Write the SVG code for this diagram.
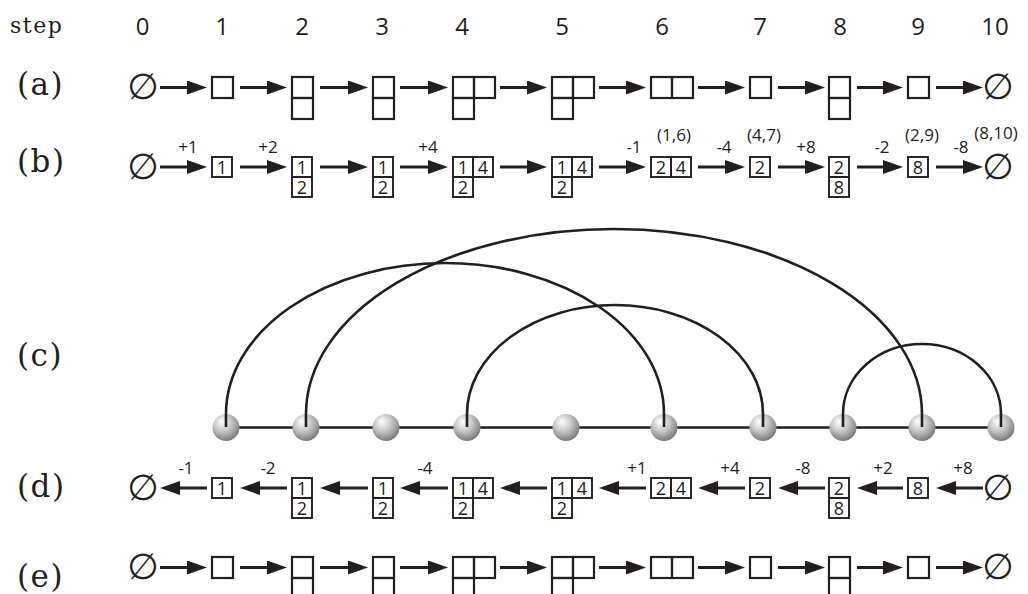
<svg xmlns="http://www.w3.org/2000/svg" width="1028" height="594" viewBox="0 0 1028 594">
<defs>
<style>
.lbl{font-family:"DejaVu Serif",serif;font-size:31px;fill:#231f20;letter-spacing:1.5px}
.stp{font-family:"DejaVu Serif",serif;font-size:22px;fill:#231f20;letter-spacing:1.5px}
.num{font-family:"Open Sans","Liberation Sans",sans-serif;font-size:24px;fill:#231f20;text-anchor:middle}
.ann{font-family:"Open Sans","Liberation Sans",sans-serif;font-size:17px;fill:#231f20;text-anchor:middle}
.dg{font-family:"Open Sans","Liberation Sans",sans-serif;font-size:18px;fill:#231f20;text-anchor:middle}
.emp{font-family:"DejaVu Sans",sans-serif;font-size:36px;fill:#231f20;text-anchor:middle}
.bx{fill:none;stroke:#231f20;stroke-width:2.2}
.bs{fill:none;stroke:#231f20;stroke-width:1.9}
.ar{fill:none;stroke:#231f20;stroke-width:2.8}
.arc{fill:none;stroke:#231f20;stroke-width:2.6}
.ball{fill:url(#sph)}
</style>
<marker id="ah" markerUnits="userSpaceOnUse" markerWidth="22" markerHeight="16" refX="9" refY="7" orient="auto">
<path d="M0,0 L20,7 L0,14 Z" fill="#231f20"/>
</marker>
<radialGradient id="sph" cx="0.42" cy="0.36" r="0.66" fx="0.34" fy="0.28">
<stop offset="0" stop-color="#ffffff"/>
<stop offset="0.5" stop-color="#c6c6c6"/>
<stop offset="1" stop-color="#767676"/>
</radialGradient>
</defs>
<rect width="1028" height="594" fill="#ffffff"/>

<g id="header">
<text class="stp" x="10" y="33">step</text>
<text class="num" x="142.5" y="35">0</text>
<text class="num" x="222" y="35">1</text>
<text class="num" x="302" y="35">2</text>
<text class="num" x="382" y="35">3</text>
<text class="num" x="462" y="35">4</text>
<text class="num" x="562" y="35">5</text>
<text class="num" x="662" y="35">6</text>
<text class="num" x="760" y="35">7</text>
<text class="num" x="840" y="35">8</text>
<text class="num" x="918" y="35">9</text>
<text class="num" x="995" y="35">10</text>
</g>

<g id="row-labels">
<text class="lbl" x="17" y="95">(a)</text>
<text class="lbl" x="17" y="172">(b)</text>
<text class="lbl" x="17" y="366">(c)</text>
<text class="lbl" x="17" y="497">(d)</text>
<text class="lbl" x="17" y="587">(e)</text>
</g>

<!-- Row (a) -->
<g id="a0"><text class="emp" x="143" y="99">∅</text></g>
<g id="a1"><rect class="bx" x="212" y="77" width="21" height="21"/></g>
<g id="a2"><rect class="bx" x="292" y="77" width="21" height="21"/><rect class="bx" x="292" y="98" width="21" height="21"/></g>
<g id="a3"><rect class="bx" x="373" y="77" width="21" height="21"/><rect class="bx" x="373" y="98" width="21" height="21"/></g>
<g id="a4"><rect class="bx" x="453" y="77" width="21" height="21"/><rect class="bx" x="474" y="77" width="21" height="21"/><rect class="bx" x="453" y="98" width="21" height="21"/></g>
<g id="a5"><rect class="bx" x="552" y="77" width="21" height="21"/><rect class="bx" x="573" y="77" width="21" height="21"/><rect class="bx" x="552" y="98" width="21" height="21"/></g>
<g id="a6"><rect class="bx" x="651" y="77" width="21" height="21"/><rect class="bx" x="672" y="77" width="21" height="21"/></g>
<g id="a7"><rect class="bx" x="750" y="77" width="21" height="21"/></g>
<g id="a8"><rect class="bx" x="829" y="77" width="21" height="21"/><rect class="bx" x="829" y="98" width="21" height="21"/></g>
<g id="a9"><rect class="bx" x="908" y="77" width="21" height="21"/></g>
<g id="a10"><text class="emp" x="998" y="99">∅</text></g>

<!-- Row (b) -->
<g id="b0"><text class="emp" x="143" y="178.5">∅</text></g>
<g id="b1"><rect class="bs" x="212" y="157" width="20" height="20"/><text class="dg" x="222" y="173.5">1</text></g>
<g id="b2"><rect class="bs" x="292" y="157" width="20" height="20"/><text class="dg" x="302" y="173.5">1</text><rect class="bs" x="292" y="177" width="20" height="20"/><text class="dg" x="302" y="193.5">2</text></g>
<g id="b3"><rect class="bs" x="373" y="157" width="20" height="20"/><text class="dg" x="383" y="173.5">1</text><rect class="bs" x="373" y="177" width="20" height="20"/><text class="dg" x="383" y="193.5">2</text></g>
<g id="b4"><rect class="bs" x="453" y="157" width="20" height="20"/><text class="dg" x="463" y="173.5">1</text><rect class="bs" x="473" y="157" width="20" height="20"/><text class="dg" x="483" y="173.5">4</text><rect class="bs" x="453" y="177" width="20" height="20"/><text class="dg" x="463" y="193.5">2</text></g>
<g id="b5"><rect class="bs" x="552" y="157" width="20" height="20"/><text class="dg" x="562" y="173.5">1</text><rect class="bs" x="572" y="157" width="20" height="20"/><text class="dg" x="582" y="173.5">4</text><rect class="bs" x="552" y="177" width="20" height="20"/><text class="dg" x="562" y="193.5">2</text></g>
<g id="b6"><rect class="bs" x="651" y="157" width="20" height="20"/><text class="dg" x="661" y="173.5">2</text><rect class="bs" x="671" y="157" width="20" height="20"/><text class="dg" x="681" y="173.5">4</text></g>
<g id="b7"><rect class="bs" x="750" y="157" width="20" height="20"/><text class="dg" x="760" y="173.5">2</text></g>
<g id="b8"><rect class="bs" x="829" y="157" width="20" height="20"/><text class="dg" x="839" y="173.5">2</text><rect class="bs" x="829" y="177" width="20" height="20"/><text class="dg" x="839" y="193.5">8</text></g>
<g id="b9"><rect class="bs" x="908" y="157" width="20" height="20"/><text class="dg" x="918" y="173.5">8</text></g>
<g id="b10"><text class="emp" x="998" y="178.5">∅</text></g>

<!-- Row (c) -->
<g id="c-chain">
<path class="arc" d="M226,427.5 H1001"/>
</g>
<g id="c-spheres">
<circle class="ball" cx="226" cy="427.5" r="13.5"/>
<circle class="ball" cx="306" cy="427.5" r="13.5"/>
<circle class="ball" cx="386" cy="427.5" r="13.5"/>
<circle class="ball" cx="467" cy="427.5" r="13.5"/>
<circle class="ball" cx="566" cy="427.5" r="13.5"/>
<circle class="ball" cx="664" cy="427.5" r="13.5"/>
<circle class="ball" cx="763" cy="427.5" r="13.5"/>
<circle class="ball" cx="843" cy="427.5" r="13.5"/>
<circle class="ball" cx="922" cy="427.5" r="13.5"/>
<circle class="ball" cx="1001" cy="427.5" r="13.5"/>
</g>

<!-- Row (d) -->
<g id="d0"><text class="emp" x="143" y="499.5">∅</text></g>
<g id="d1"><rect class="bs" x="212" y="478" width="20" height="20"/><text class="dg" x="222" y="494.5">1</text></g>
<g id="d2"><rect class="bs" x="292" y="478" width="20" height="20"/><text class="dg" x="302" y="494.5">1</text><rect class="bs" x="292" y="498" width="20" height="20"/><text class="dg" x="302" y="514.5">2</text></g>
<g id="d3"><rect class="bs" x="373" y="478" width="20" height="20"/><text class="dg" x="383" y="494.5">1</text><rect class="bs" x="373" y="498" width="20" height="20"/><text class="dg" x="383" y="514.5">2</text></g>
<g id="d4"><rect class="bs" x="453" y="478" width="20" height="20"/><text class="dg" x="463" y="494.5">1</text><rect class="bs" x="473" y="478" width="20" height="20"/><text class="dg" x="483" y="494.5">4</text><rect class="bs" x="453" y="498" width="20" height="20"/><text class="dg" x="463" y="514.5">2</text></g>
<g id="d5"><rect class="bs" x="552" y="478" width="20" height="20"/><text class="dg" x="562" y="494.5">1</text><rect class="bs" x="572" y="478" width="20" height="20"/><text class="dg" x="582" y="494.5">4</text><rect class="bs" x="552" y="498" width="20" height="20"/><text class="dg" x="562" y="514.5">2</text></g>
<g id="d6"><rect class="bs" x="651" y="478" width="20" height="20"/><text class="dg" x="661" y="494.5">2</text><rect class="bs" x="671" y="478" width="20" height="20"/><text class="dg" x="681" y="494.5">4</text></g>
<g id="d7"><rect class="bs" x="750" y="478" width="20" height="20"/><text class="dg" x="760" y="494.5">2</text></g>
<g id="d8"><rect class="bs" x="829" y="478" width="20" height="20"/><text class="dg" x="839" y="494.5">2</text><rect class="bs" x="829" y="498" width="20" height="20"/><text class="dg" x="839" y="514.5">8</text></g>
<g id="d9"><rect class="bs" x="908" y="478" width="20" height="20"/><text class="dg" x="918" y="494.5">8</text></g>
<g id="d10"><text class="emp" x="998" y="499.5">∅</text></g>

<!-- Row (e) -->
<g id="e0"><text class="emp" x="143" y="579">∅</text></g>
<g id="e1"><rect class="bx" x="212" y="557" width="21" height="21"/></g>
<g id="e2"><rect class="bx" x="292" y="557" width="21" height="21"/><rect class="bx" x="292" y="578" width="21" height="21"/></g>
<g id="e3"><rect class="bx" x="373" y="557" width="21" height="21"/><rect class="bx" x="373" y="578" width="21" height="21"/></g>
<g id="e4"><rect class="bx" x="453" y="557" width="21" height="21"/><rect class="bx" x="474" y="557" width="21" height="21"/><rect class="bx" x="453" y="578" width="21" height="21"/></g>
<g id="e5"><rect class="bx" x="552" y="557" width="21" height="21"/><rect class="bx" x="573" y="557" width="21" height="21"/><rect class="bx" x="552" y="578" width="21" height="21"/></g>
<g id="e6"><rect class="bx" x="651" y="557" width="21" height="21"/><rect class="bx" x="672" y="557" width="21" height="21"/></g>
<g id="e7"><rect class="bx" x="750" y="557" width="21" height="21"/></g>
<g id="e8"><rect class="bx" x="829" y="557" width="21" height="21"/><rect class="bx" x="829" y="578" width="21" height="21"/></g>
<g id="e9"><rect class="bx" x="908" y="557" width="21" height="21"/></g>
<g id="e10"><text class="emp" x="998" y="579">∅</text></g>

<g id="connectors">
<!-- arcs (c) -->
<path class="arc" d="M226,427 V414 A219,151 0 0 1 664,414 V427"/>
<path class="arc" d="M306,427 V414 A308,185 0 0 1 922,414 V427"/>
<path class="arc" d="M467,427 V414 A148,109 0 0 1 763,414 V427"/>
<path class="arc" d="M843,427 V414 A79,70 0 0 1 1001,414 V427"/>
<g marker-end="url(#ah)">
<!-- row (a) arrows -->
<path class="ar" d="M160,87.5 H196"/>
<path class="ar" d="M240,87.5 H276"/>
<path class="ar" d="M320,87.5 H357"/>
<path class="ar" d="M400,87.5 H437"/>
<path class="ar" d="M500,87.5 H536"/>
<path class="ar" d="M599,87.5 H635"/>
<path class="ar" d="M698,87.5 H734"/>
<path class="ar" d="M778,87.5 H814"/>
<path class="ar" d="M857,87.5 H892"/>
<path class="ar" d="M936,87.5 H972"/>
<!-- row (b) arrows -->
<path class="ar" d="M160,167 H196"/>
<path class="ar" d="M240,167 H276"/>
<path class="ar" d="M320,167 H357"/>
<path class="ar" d="M400,167 H437"/>
<path class="ar" d="M500,167 H536"/>
<path class="ar" d="M599,167 H635"/>
<path class="ar" d="M698,167 H734"/>
<path class="ar" d="M778,167 H814"/>
<path class="ar" d="M857,167 H892"/>
<path class="ar" d="M936,167 H972"/>
<!-- row (d) arrows (reverse) -->
<path class="ar" d="M207,488 H171"/>
<path class="ar" d="M287,488 H251"/>
<path class="ar" d="M368,488 H331"/>
<path class="ar" d="M448,488 H411"/>
<path class="ar" d="M547,488 H511"/>
<path class="ar" d="M646,488 H610"/>
<path class="ar" d="M745,488 H709"/>
<path class="ar" d="M825,488 H789"/>
<path class="ar" d="M903,488 H868"/>
<path class="ar" d="M983,488 H947"/>
<!-- row (e) arrows -->
<path class="ar" d="M160,567.5 H196"/>
<path class="ar" d="M240,567.5 H276"/>
<path class="ar" d="M320,567.5 H357"/>
<path class="ar" d="M400,567.5 H437"/>
<path class="ar" d="M500,567.5 H536"/>
<path class="ar" d="M599,567.5 H635"/>
<path class="ar" d="M698,567.5 H734"/>
<path class="ar" d="M778,567.5 H814"/>
<path class="ar" d="M857,567.5 H892"/>
<path class="ar" d="M936,567.5 H972"/>
</g>
<!-- arrow annotations (b) -->
<g id="b-labels">
<text class="ann" x="188" y="153">+1</text>
<text class="ann" x="268" y="153">+2</text>
<text class="ann" x="428" y="153">+4</text>
<text class="ann" x="634" y="153">-1</text>
<text class="ann" x="674" y="141">(1,6)</text>
<text class="ann" x="724" y="153">-4</text>
<text class="ann" x="764" y="141">(4,7)</text>
<text class="ann" x="806" y="153">+8</text>
<text class="ann" x="882" y="153">-2</text>
<text class="ann" x="922" y="141">(2,9)</text>
<text class="ann" x="961" y="153">-8</text>
<text class="ann" x="996" y="139">(8,10)</text>
</g>
<!-- arrow annotations (d) -->
<g id="d-labels">
<text class="ann" x="186" y="474">-1</text>
<text class="ann" x="268" y="474">-2</text>
<text class="ann" x="425" y="474">-4</text>
<text class="ann" x="637" y="474">+1</text>
<text class="ann" x="730" y="474">+4</text>
<text class="ann" x="803" y="474">-8</text>
<text class="ann" x="883" y="474">+2</text>
<text class="ann" x="963" y="474">+8</text>
</g>
</g>
</svg>
